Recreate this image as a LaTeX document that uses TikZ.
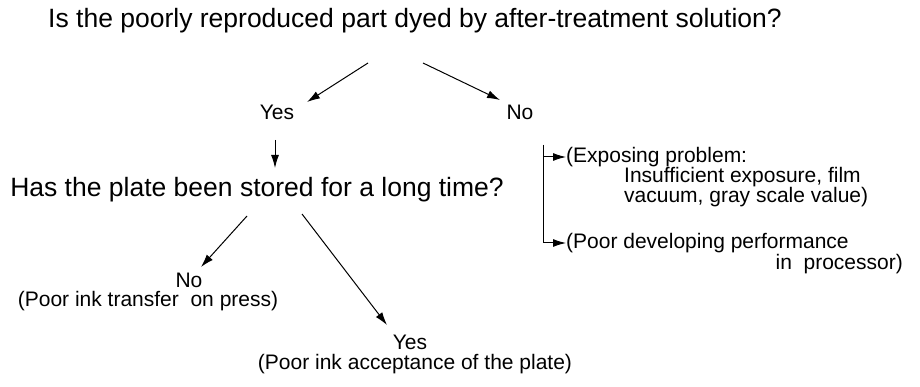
\documentclass[tikz,border=0pt]{standalone}
\usepackage{fontspec}
\setmainfont{Liberation Sans}
\usetikzlibrary{arrows.meta}

\begin{document}
\begin{tikzpicture}[x=1pt,y=-1pt,
    big/.style={font=\fontsize{26.5}{30}\selectfont,inner sep=0pt},
    small/.style={font=\fontsize{21}{24}\selectfont,inner sep=0pt},
    arr/.style={line width=1pt,-{Latex[length=13pt,width=8pt]}}]
  \useasboundingbox (0,0) rectangle (920,387);
  % questions and answers
  \node[big] (q1) at (415,21) {Is the poorly reproduced part dyed by after-treatment solution?};
  \node[small] (yes1) at (277,112) {Yes};
  \node[small] (no1) at (520,112) {No};
  \node[big] (q2) at (257,190) {Has the plate been stored for a long time?};
  \node[small] (no2) at (189,280) {No};
  \node[small] (transfer) at (148,301) {(Poor ink transfer\ \ on press)};
  \node[small] (yes2) at (410,342) {Yes};
  \node[small] (accept) at (415,364) {(Poor ink acceptance of the plate)};
  % causes after No
  \node[small,anchor=west] (exp) at (566,157) {(Exposing problem:};
  \node[small,anchor=west] (exp2) at (624,177) {Insufficient exposure, film};
  \node[small,anchor=west] (exp3) at (624,197) {vacuum, gray scale value)};
  \node[small,anchor=west] (dev) at (566,243) {(Poor developing performance};
  \node[small,anchor=east] (dev2) at (903,264) {in\ \ processor)};
  % arrows
  \foreach \pos/\name in { {(368,63)/a1}, {(307,102)/a2}, {(423,63)/b1}, {(500,100)/b2}, {(275,140)/c1}, {(275,168)/c2}, {(247,216)/d1}, {(201,267)/d2}, {(302,214)/e1}, {(387,325)/e2}, {(543,145)/f1}}
    \path \pos coordinate (\name);
  \foreach \src/\dst in {a1/a2, b1/b2, c1/c2, d1/d2, e1/e2}
    \path[draw,arr] (\src) -- (\dst);
  \draw[arr] (f1) |- (exp.west);
  \draw[arr] (f1) |- (dev.west);
\end{tikzpicture}
\end{document}
